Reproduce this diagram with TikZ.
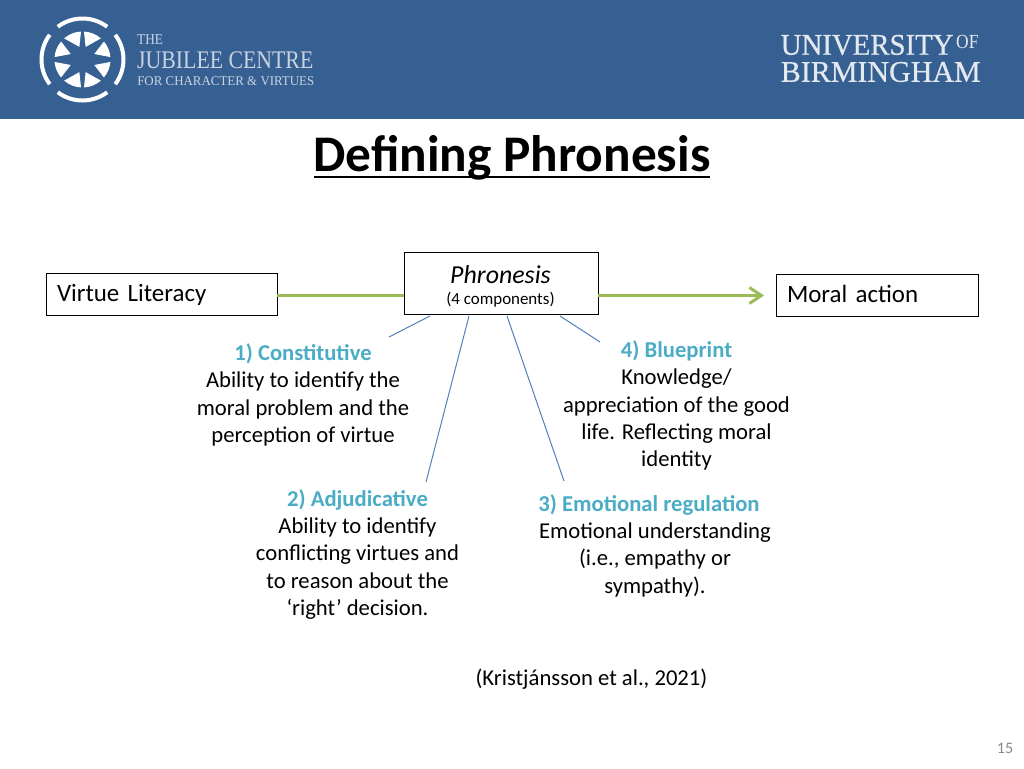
\documentclass[tikz,border=0pt]{standalone}
\usepackage{fontspec}
\usetikzlibrary{arrows.meta}
\setmainfont{Carlito}
\newfontfamily\serifbrand{Liberation Serif}
\newfontfamily\serifheavy[FakeBold=0.5]{Liberation Serif}
\definecolor{headerblue}{HTML}{376092}
\definecolor{tealhead}{HTML}{4BACC6}
\definecolor{greenline}{HTML}{9BBB59}
\definecolor{connblue}{HTML}{4F81BD}
\definecolor{pagenum}{HTML}{898989}
\definecolor{brandgrey}{HTML}{C9D3E1}
\definecolor{brandlight}{HTML}{E4E9F0}
\tikzset{
  labelbox/.style={draw=black,line width=0.75pt,fill=white,inner sep=0pt,outer sep=0pt},
  boxtext/.style={labelbox,anchor=north west,align=left,minimum height=42*0.75pt,text height=15.5pt,text depth=4pt,font=\fontsize{18.7}{20}\selectfont},
  body/.style={align=center,font=\fontsize{17}{20.5}\selectfont,inner sep=0pt,text=black},
  conn/.style={draw=connblue,line width=0.75pt},
  flow/.style={draw=greenline,line width=2.2pt},
  ringarc/.style={draw=white,line width=3pt},
  brand/.style={text=brandgrey,inner sep=0pt,anchor=west},
  brandhi/.style={text=brandlight,inner sep=0pt,anchor=west},
}
\newcommand{\headtext}[1]{{\bfseries\color{tealhead}#1}}
\begin{document}
\begin{tikzpicture}[x=0.75pt,y=-0.75pt]
\useasboundingbox (0,0) rectangle (1024,768);
\fill[white] (0,0) rectangle (1024,768);
\fill[headerblue] (0,0) rectangle (1024,119);
% logo
\begin{scope}[shift={(82.5,59.5)},y=0.75pt]
  \foreach \a in {0,90,180,270}{
    \draw[ringarc,rotate=\a] (-37:41) arc[start angle=-37,end angle=37,radius=41];
  }
  \foreach \sx in {1,-1}{
    \foreach \sy in {1,-1}{
      \begin{scope}[xscale=\sx,yscale=\sy]
        \fill[white] (25:13) -- (5:28) arc[start angle=5,end angle=40,radius=28] -- cycle;
        \fill[white] (76:13) -- (49:28) arc[start angle=49,end angle=87,radius=28] -- cycle;
      \end{scope}
    }
  }
\end{scope}
\node[brand,xscale=0.87,font=\serifbrand\fontsize{11.4}{11.4}\selectfont] (the) at (137,40) {THE};
\node[brand,xscale=0.86,font=\serifbrand\fontsize{19}{19}\selectfont] (jubilee) at (137,60) {JUBILEE CENTRE};
\node[brand,xscale=0.97,font=\serifbrand\fontsize{10}{10}\selectfont] (forchar) at (137,81) {FOR CHARACTER \& VIRTUES};
\node[brandhi,xscale=0.96,font=\serifheavy\fontsize{22.5}{22.5}\selectfont] (univ) at (780.5,45) {UNIVERSITY};
\node[brandhi,xscale=0.87,font=\serifbrand\fontsize{15}{15}\selectfont] (of) at (956,42) {OF};
\node[brandhi,font=\serifheavy\fontsize{22.5}{22.5}\selectfont] (birm) at (780.5,72) {BIRMINGHAM};
% title
\node[inner sep=0pt,font=\bfseries\fontsize{38.5}{38.5}\selectfont] (title) at (512,158) {Defining Phronesis};
\draw[black,line width=1.6pt] (314,177) -- (710,177);
% boxes
\node[boxtext,minimum width=231*0.75pt,text width=209*0.75pt] (virtue) at (46,273) {Virtue Literacy};
\node[boxtext,minimum width=202*0.75pt,text width=180*0.75pt] (moral) at (776,274) {Moral action};
\coordinate (flowin) at (404,295.5);
\draw[flow] (virtue.east |- flowin) -- (flowin);
\node[labelbox,minimum width=194*0.75pt,minimum height=62*0.75pt,anchor=north west] (phron) at (404,252.5) {};
\node[inner sep=0pt,font=\itshape\fontsize{19.4}{20}\selectfont] (phrontitle) at (500.5,274.5) {Phronesis};
\node[inner sep=0pt,font=\fontsize{12.7}{14}\selectfont] (phronsub) at (500.5,299.5) {(4 components)};
\coordinate (flowstart) at (598,295.5);
\coordinate (flowend) at (764,295.5);
\draw[flow,-{Straight Barb[length=9pt,width=12pt]}] (flowstart) -- (flowend);
% component labels
\node[body] (c1) at (303,395) {\headtext{1) Constitutive}\\Ability to identify the\\moral problem and the\\perception of virtue};
\node[body] (c4) at (676.5,405.5) {\headtext{4) Blueprint}\\Knowledge/\\appreciation of the good\\life. Reflecting moral\\identity};
\node[body] (c2) at (357.5,554.5) {\headtext{2) Adjudicative}\\Ability to identify\\conflicting virtues and\\to reason about the\\‘right’ decision.};
\node[body] (c3) at (655,545.5) {\headtext{3) Emotional regulation}\hspace*{9pt}\\Emotional understanding\\(i.e., empathy or\\sympathy).};
\coordinate (c1end) at (389,337);
\coordinate (c2end) at (426,482);
\coordinate (c3end) at (564,481);
\coordinate (c4end) at (600,342);
\coordinate (p1) at (430,316);
\coordinate (p2) at (469,316);
\coordinate (p3) at (507,316);
\coordinate (p4) at (560,316);
\draw[conn] (p1) -- (c1end);
\draw[conn] (p2) -- (c2end);
\draw[conn] (p3) -- (c3end);
\draw[conn] (p4) -- (c4end);
\node[body] (cite) at (591.5,679) {(Kristjánsson et al., 2021)};
\node[inner sep=0pt,text=pagenum,font=\fontsize{12}{14}\selectfont] (page) at (1005,748) {15};
\end{tikzpicture}
\end{document}
